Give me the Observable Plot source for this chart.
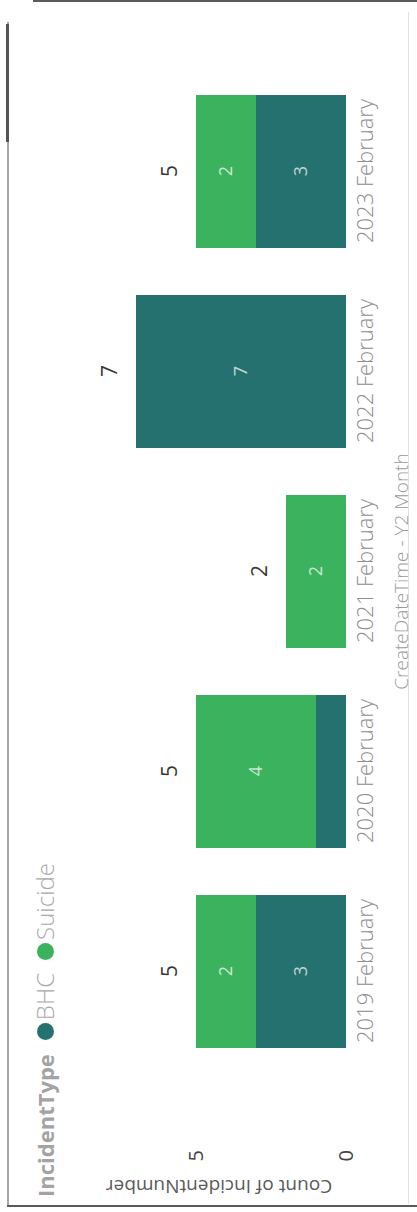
<!DOCTYPE html>
<html>
<head>
<meta charset="utf-8">
<script src="https://cdn.jsdelivr.net/npm/d3@7"></script>
<script src="https://cdn.jsdelivr.net/npm/@observablehq/plot@0.6"></script>
<style>
  html, body { margin: 0; padding: 0; background: #fff; width: 417px; height: 1212px; overflow: hidden; font-family: "Open Sans", sans-serif; }
  /* the visual is laid out landscape and turned a quarter turn to fit the portrait page */
  #stage { position: absolute; left: 0; top: 0; width: 1212px; height: 417px; transform-origin: 0 0; transform: translateY(1212px) rotate(-90deg); }
  #legend { position: absolute; left: 15px; top: 29px; display: flex; align-items: center; line-height: 32px; color: #a9a9a9; white-space: nowrap; }
  #legend .title { font-size: 22px; font-weight: 700; color: #a3a3a3; margin-right: 14px; }
  #legend .dot { width: 17px; height: 17px; border-radius: 50%; display: inline-block; margin-right: 3px; }
  #legend .item { display: flex; align-items: center; margin-right: 13px; font-size: 24px; font-weight: 300; }
  .edge { position: absolute; }
</style>
</head>
<body>
<div class="edge" style="left:33px; top:0; width:384px; height:2px; background:#5a5a5a;"></div>
<div class="edge" style="left:7px; top:22px; width:2px; height:1184px; background:#a5a5a5;"></div>
<div class="edge" style="left:6px; top:24px; width:3px; height:118px; background:#555;"></div>
<div class="edge" style="left:7px; top:1205px; width:410px; height:2px; background:#5a5a5a;"></div>
<div class="edge" style="left:408px; top:12px; width:1px; height:1192px; background:#e2e2e2;"></div>
<div id="stage">
  <div id="chart"></div>
  <div id="legend"></div>
</div>
<script>
// Incident counts for February of each year, split by incident type
const months = ["2019 February", "2020 February", "2021 February", "2022 February", "2023 February"];
const types = ["BHC", "Suicide"];
const bhc = [3, 1, 0, 7, 3];
const suicide = [2, 4, 2, 0, 2];
const colors = ["#25716f", "#3bb25e"];
const yTicks = [0, 5];
const xTitle = "CreateDateTime - Y2 Month";
const yTitle = "Count of IncidentNumber";
const legendTitle = "IncidentType";

// long table: BHC first so it sits at the bottom of each stack
const rows = months.flatMap((m, i) => [
  {month: m, type: "BHC", count: bhc[i]},
  {month: m, type: "Suicide", count: suicide[i]}
]).filter(d => d.count > 0);

const chart = Plot.plot({
  width: 1212,
  height: 417,
  marginLeft: 116.5,
  marginRight: 48.5,
  marginTop: 91,
  marginBottom: 71,
  style: {fontFamily: "Open Sans, sans-serif", background: "transparent", overflow: "visible"},
  x: {domain: months, padding: 0.235},
  y: {domain: [0, 8.5]},
  color: {domain: types, range: colors},
  marks: [
    Plot.barY(rows, {x: "month", y: "count", fill: "type"}),
    // segment labels are hidden when a segment is too thin to hold one
    Plot.text(rows, Plot.stackY({x: "month", y: "count", z: "type", text: d => d.count > 1 ? d.count : "",
      fill: "white", fillOpacity: 0.72, fontSize: 18})),
    Plot.text(rows, Plot.groupX({y: "sum", text: "sum"}, {x: "month", y: "count", text: "count",
      dy: -26, fontSize: 21, fill: "#3a3a3a"})),
    Plot.axisX({tickSize: 0, tickPadding: 11, fontSize: 22, fill: "#8d8d8d", fontWeight: 300, label: null}),
    Plot.axisY({ticks: yTicks, tickSize: 0, tickPadding: 55, fontSize: 20, fill: "#444", label: null}),
    Plot.text([xTitle], {text: d => d, frameAnchor: "bottom", dy: 61, fontSize: 19, fill: "#9a9a9a", fontWeight: 300}),
    Plot.text([yTitle], {text: d => d, frameAnchor: "left", textAnchor: "middle", dx: -91, rotate: -90, fontSize: 19, fill: "#5a5a5a"})
  ]
});
document.getElementById("chart").appendChild(chart);

// legend row across the top of the visual
const legend = document.getElementById("legend");
const t = document.createElement("span");
t.className = "title";
t.textContent = legendTitle;
legend.appendChild(t);
types.forEach((ty, i) => {
  const item = document.createElement("span");
  item.className = "item";
  const dot = document.createElement("span");
  dot.className = "dot";
  dot.style.background = colors[i];
  const lab = document.createElement("span");
  lab.textContent = ty;
  item.appendChild(dot);
  item.appendChild(lab);
  legend.appendChild(item);
});
</script>
</body>
</html>
